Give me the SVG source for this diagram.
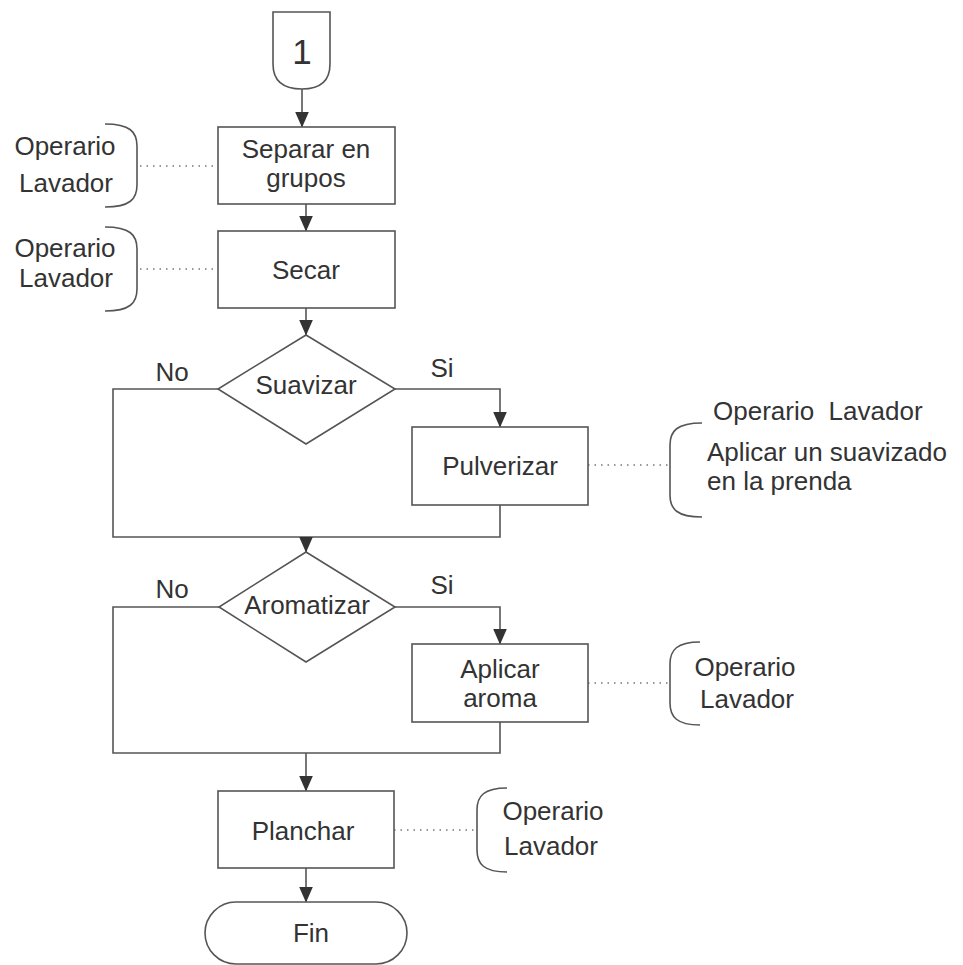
<svg xmlns="http://www.w3.org/2000/svg" width="963" height="965" viewBox="0 0 963 965">
<style>
.s{fill:#fff;stroke:#555;stroke-width:1.6}
.c{fill:none;stroke:#555;stroke-width:1.6}
.d{fill:none;stroke:#777;stroke-width:1.5;stroke-dasharray:1.5 5}
.b{fill:none;stroke:#555;stroke-width:1.6}
text{font-family:"Liberation Sans",Arial,sans-serif;font-size:26px;fill:#333}
.m{text-anchor:middle}
</style>
<defs>
<marker id="v" markerUnits="userSpaceOnUse" markerWidth="16" markerHeight="14" refX="15.5" refY="7" orient="auto" viewBox="0 0 16 14">
<path d="M0,0 L16,7 L0,14 Z" fill="#333"/>
</marker>
</defs>
<rect width="963" height="965" fill="#fff"/>
<g id="connectors">
<path class="c" d="M302,89 V127" marker-end="url(#v)"/>
<path class="c" d="M306,204 V231" marker-end="url(#v)"/>
<path class="c" d="M306,308 V335" marker-end="url(#v)"/>
<path class="c" d="M395,389 H500 V427" marker-end="url(#v)"/>
<path class="c" d="M218,389 H113 V537 H500 V505"/>
<path class="c" d="M306,537 V552" marker-end="url(#v)"/>
<path class="c" d="M395,607 H500 V644" marker-end="url(#v)"/>
<path class="c" d="M219,607 H113 V753 H500 V722"/>
<path class="c" d="M306,753 V791" marker-end="url(#v)"/>
<path class="c" d="M306,868 V902" marker-end="url(#v)"/>
<path class="d" d="M140,166 H218"/>
<path class="d" d="M140,269 H218"/>
<path class="d" d="M588,465 H670"/>
<path class="d" d="M588,683 H670"/>
<path class="d" d="M394,830 H477"/>
<text x="172" y="381" class="m">No</text>
<text x="442" y="377" class="m">Si</text>
<text x="172" y="598" class="m">No</text>
<text x="442" y="594" class="m">Si</text>
</g>
<g id="n1">
<path class="s" d="M273,12 H330 V64 Q330,89 302,89 Q273,89 273,64 Z"/>
<text x="302" y="64" class="m" style="font-size:35px">1</text>
</g>
<g id="separar">
<rect class="s" x="218" y="127" width="177" height="77"/>
<text x="306" y="158" class="m">Separar en</text>
<text x="306" y="187" class="m">grupos</text>
</g>
<g id="secar">
<rect class="s" x="218" y="231" width="177" height="77"/>
<text x="306" y="279" class="m">Secar</text>
</g>
<g id="suavizar">
<path class="s" d="M306,335 L395,389 L306,444 L218,389 Z"/>
<text x="306" y="394" class="m">Suavizar</text>
</g>
<g id="pulverizar">
<rect class="s" x="412" y="427" width="176" height="78"/>
<text x="500" y="475" class="m">Pulverizar</text>
</g>
<g id="aromatizar">
<path class="s" d="M306,552 L395,607 L306,662 L219,607 Z"/>
<text x="307" y="614" class="m">Aromatizar</text>
</g>
<g id="aplicar">
<rect class="s" x="412" y="644" width="176" height="78"/>
<text x="500" y="678" class="m">Aplicar</text>
<text x="500" y="707" class="m">aroma</text>
</g>
<g id="planchar">
<rect class="s" x="218" y="791" width="176" height="77"/>
<text x="303" y="840" class="m">Planchar</text>
</g>
<g id="fin">
<rect class="s" x="205" y="902" width="202" height="62" rx="31" ry="31"/>
<text x="311" y="942" class="m">Fin</text>
</g>
<g id="note1">
<path class="b" d="M105,124 C130,124 137,132 137,146 V185 C137,199 130,207 105,207"/>
<text x="65" y="155" class="m">Operario</text>
<text x="66" y="192" class="m">Lavador</text>
</g>
<g id="note2">
<path class="b" d="M105,227 C130,227 137,235 137,249 V289 C137,303 130,311 105,311"/>
<text x="65" y="257" class="m">Operario</text>
<text x="66" y="287" class="m">Lavador</text>
</g>
<g id="note3">
<path class="b" d="M702,423 C677,423 670,431 670,445 V495 C670,509 677,517 702,517"/>
<text x="713" y="420" style="white-space:pre">Operario  Lavador</text>
<text x="707" y="461">Aplicar un suavizado</text>
<text x="707" y="490">en la prenda</text>
</g>
<g id="note4">
<path class="b" d="M700,642 C677,642 670,650 670,664 V703 C670,717 677,725 700,725"/>
<text x="745" y="676" class="m">Operario</text>
<text x="747" y="708" class="m">Lavador</text>
</g>
<g id="note5">
<path class="b" d="M507,788 C484,788 477,796 477,810 V850 C477,864 484,872 507,872"/>
<text x="553" y="820" class="m">Operario</text>
<text x="551" y="855" class="m">Lavador</text>
</g>
</svg>
